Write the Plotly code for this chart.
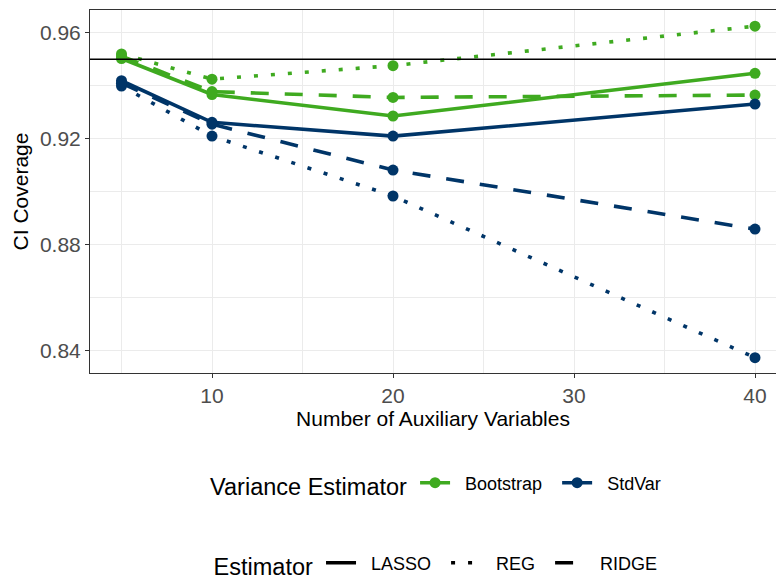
import plotly.graph_objects as go

# Number of auxiliary variables on the x axis
n_aux = [5, 10, 20, 40]

# CI coverage by variance estimator (Bootstrap / StdVar) and estimator (LASSO / REG / RIDGE)
boot_lasso = [0.9503, 0.9367, 0.9286, 0.9447]
boot_reg = [0.9520, 0.9425, 0.9476, 0.9625]
boot_ridge = [0.9512, 0.9378, 0.9356, 0.9365]
std_lasso = [0.9419, 0.9262, 0.9210, 0.9331]
std_reg = [0.9399, 0.9210, 0.8984, 0.8374]
std_ridge = [0.9410, 0.9255, 0.9082, 0.8859]

nominal_level = 0.95

variance_labels = ["Bootstrap", "StdVar"]
estimator_labels = ["LASSO", "REG", "RIDGE"]

GREEN = "#3FAA20"
NAVY = "#003568"
colors = {"Bootstrap": GREEN, "StdVar": NAVY}
dashes = {"LASSO": "solid", "REG": "4px,13px", "RIDGE": "18px,16px"}

series = [
    ("Bootstrap", "LASSO", boot_lasso),
    ("Bootstrap", "REG", boot_reg),
    ("Bootstrap", "RIDGE", boot_ridge),
    ("StdVar", "LASSO", std_lasso),
    ("StdVar", "REG", std_reg),
    ("StdVar", "RIDGE", std_ridge),
]

LW = 3.6
NB = "\u00a0"


def entry(label):
    # spacing around legend labels: gap after the key, a little after the text
    return NB * 2 + label + NB * 2


fig = go.Figure()

# lines first, then points on top
for var, est, vals in series:
    fig.add_trace(go.Scatter(
        x=n_aux, y=vals, mode="lines",
        line=dict(color=colors[var], width=LW, dash=dashes[est]),
        showlegend=False, hoverinfo="skip",
    ))
for var, est, vals in series:
    fig.add_trace(go.Scatter(
        x=n_aux, y=vals, mode="markers",
        marker=dict(color=colors[var], size=11),
        showlegend=False, name=f"{var} {est}",
    ))

# legend entries: variance estimator (colour)
for var in variance_labels:
    fig.add_trace(go.Scatter(
        x=[None], y=[None], mode="lines+markers", name=entry(var),
        line=dict(color=colors[var], width=LW),
        marker=dict(color=colors[var], size=11),
        legend="legend",
    ))
# legend entries: estimator (line type)
for est in estimator_labels:
    fig.add_trace(go.Scatter(
        x=[None], y=[None], mode="lines", name=entry(est),
        line=dict(color="black", width=LW, dash=dashes[est]),
        legend="legend2",
    ))

# nominal coverage reference line
fig.add_shape(type="line", xref="x domain", yref="y", x0=0, x1=1,
              y0=nominal_level, y1=nominal_level,
              line=dict(color="black", width=1.6), layer="above")

grid = "#EBEBEB"
frame = "#333333"
tickfont = dict(family="Liberation Sans, Arial, sans-serif", size=21, color="#4D4D4D")
titlefont = dict(family="Liberation Sans, Arial, sans-serif", size=21, color="black")

legend_common = dict(
    orientation="h", xref="container", yref="container",
    xanchor="center", yanchor="middle",
    font=dict(size=18, color="black"), bgcolor="rgba(0,0,0,0)",
    traceorder="normal",
)

fig.update_layout(
    width=777, height=579,
    margin=dict(l=90, r=1, t=10, b=206),
    paper_bgcolor="white", plot_bgcolor="white",
    font=dict(family="Liberation Sans, Arial, sans-serif", color="black"),
    xaxis=dict(
        range=[3.26, 41.16], tickvals=[10, 20, 30, 40],
        showgrid=True, gridcolor=grid, gridwidth=1.1,
        minor=dict(tickvals=[5, 15, 25, 35], showgrid=True, gridcolor=grid, gridwidth=0.6),
        ticks="outside", ticklen=4, tickcolor=frame, tickwidth=1,
        showline=True, linecolor=frame, linewidth=1, mirror=True,
        zeroline=False, tickfont=tickfont,
        title=dict(text="Number of Auxiliary Variables", font=titlefont, standoff=4),
    ),
    yaxis=dict(
        range=[0.8316, 0.9686], tickvals=[0.84, 0.88, 0.92, 0.96],
        ticktext=["0.84", "0.88", "0.92", "0.96"],
        showgrid=True, gridcolor=grid, gridwidth=1.1,
        minor=dict(tickvals=[0.86, 0.90, 0.94], showgrid=True, gridcolor=grid, gridwidth=0.6),
        ticks="outside", ticklen=4, tickcolor=frame, tickwidth=1,
        showline=True, linecolor=frame, linewidth=1, mirror=False,
        zeroline=False, tickfont=tickfont,
        title=dict(text="CI Coverage", font=titlefont, standoff=5),
    ),
    legend=dict(
        legend_common, x=0.569, y=1 - 485 / 579,
        title=dict(text="Variance Estimator", side="left",
                   font=dict(size=23.5, color="black")),
    ),
    legend2=dict(
        legend_common, x=0.569, y=1 - 565 / 579,
        title=dict(text="Estimator", side="left",
                   font=dict(size=23.5, color="black")),
    ),
)

fig.write_html("out.html")
